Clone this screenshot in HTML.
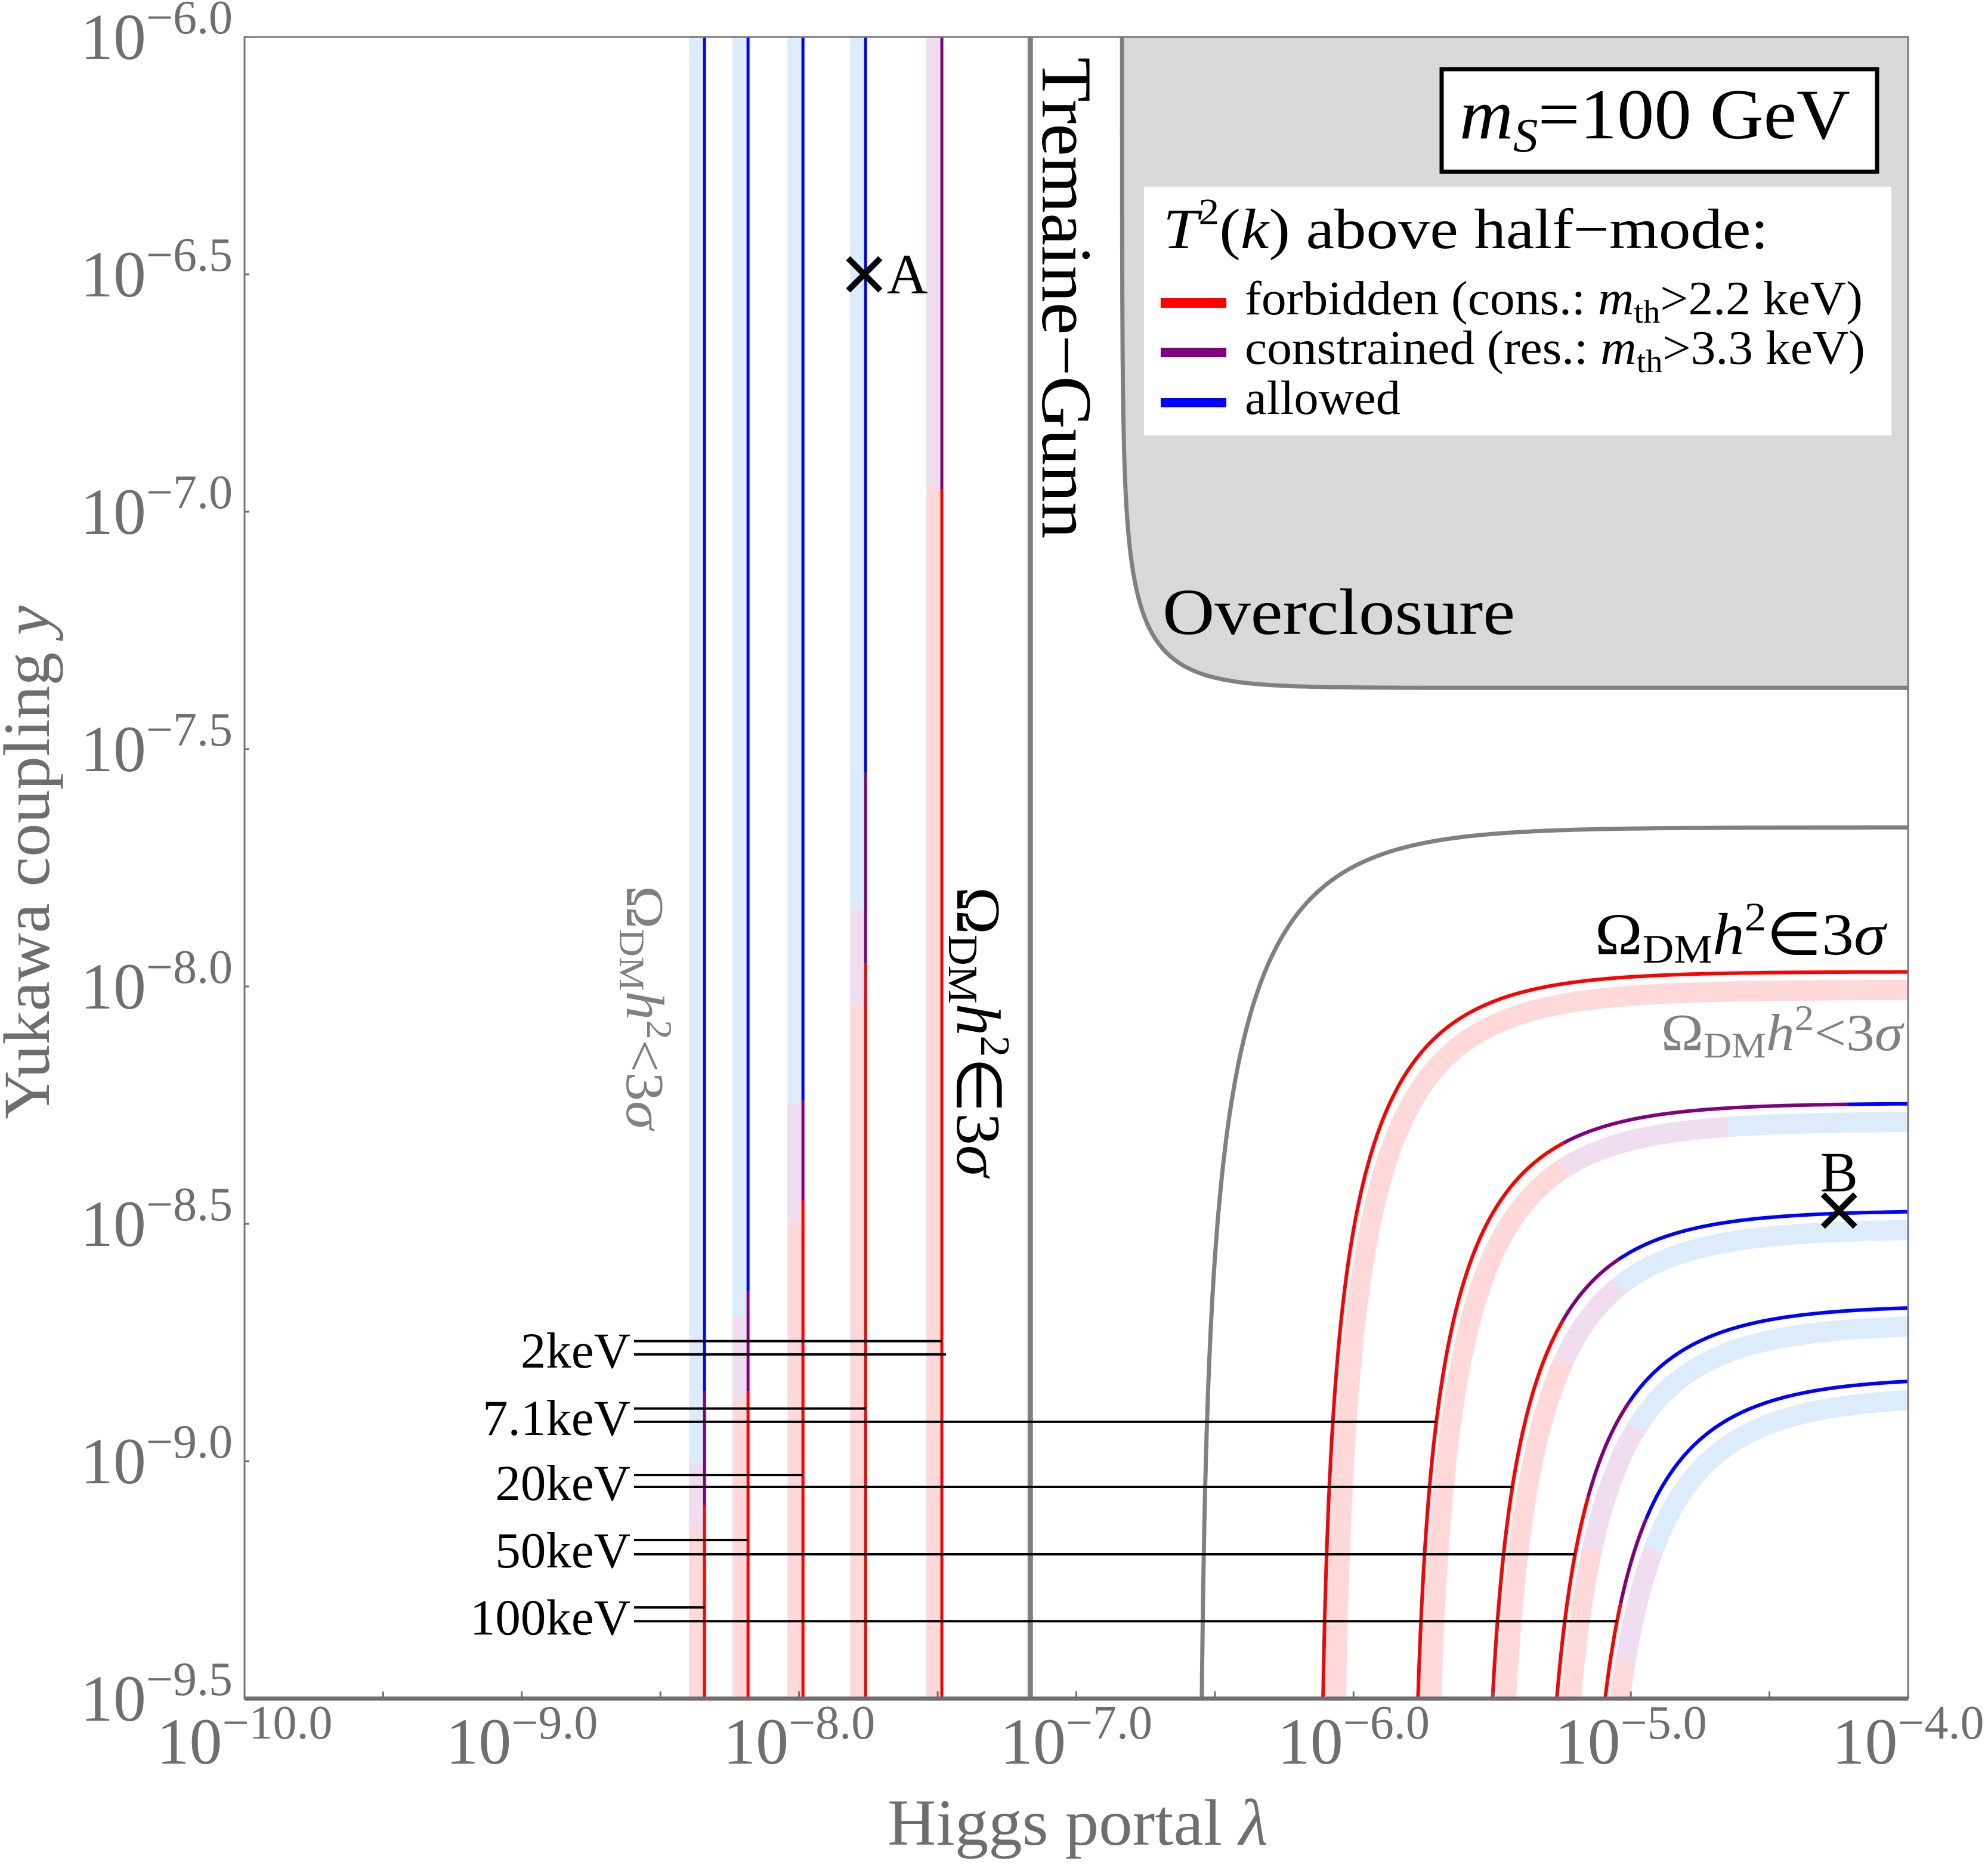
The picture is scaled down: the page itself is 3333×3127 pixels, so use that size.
<!DOCTYPE html>
<html><head><meta charset="utf-8"><style>
html,body{margin:0;padding:0;background:#fff;}
svg{display:block;font-family:"Liberation Serif",serif;}
</style></head><body>
<svg id="chart" width="3333" height="3127" viewBox="0 0 3333 3127" xmlns="http://www.w3.org/2000/svg">
<defs><clipPath id="plotClip"><rect x="410" y="62" width="2789" height="2786"/></clipPath></defs>
<rect x="0" y="0" width="3333" height="3127" fill="#fff"/>
<g id="gFill" clip-path="url(#plotClip)"></g>
<g id="gBands" clip-path="url(#plotClip)"></g>
<g id="gLines" clip-path="url(#plotClip)"></g>
<g id="gGray" clip-path="url(#plotClip)"></g>
<g id="gMass"></g>
<g id="gAxes"></g>
<g id="gText">
  <text transform="translate(1748,96) rotate(90)" font-size="120" textLength="807" lengthAdjust="spacingAndGlyphs" fill="#000">Tremaine−Gunn</text>
  <text x="1949" y="1063" font-size="110" textLength="591" lengthAdjust="spacingAndGlyphs" fill="#000">Overclosure</text>
  <text transform="translate(1605,1487) rotate(90)" font-size="105" textLength="486" lengthAdjust="spacingAndGlyphs" fill="#000">Ω<tspan font-size="70" dy="14">DM</tspan><tspan font-style="italic" dy="-14">h</tspan><tspan font-size="70" dy="-40">2</tspan><tspan dy="40">∈3</tspan><tspan font-style="italic">σ</tspan></text>
  <text transform="translate(1051,1485) rotate(90)" font-size="90" textLength="409" lengthAdjust="spacingAndGlyphs" fill="#808080">Ω<tspan font-size="60" dy="12">DM</tspan><tspan font-style="italic" dy="-12">h</tspan><tspan font-size="60" dy="-34">2</tspan><tspan dy="34">&lt;3</tspan><tspan font-style="italic">σ</tspan></text>
  <text x="2674" y="1600" font-size="100" textLength="487" lengthAdjust="spacingAndGlyphs" fill="#000">Ω<tspan font-size="68" dy="14">DM</tspan><tspan font-style="italic" dy="-14">h</tspan><tspan font-size="68" dy="-40">2</tspan><tspan dy="40">∈3</tspan><tspan font-style="italic">σ</tspan></text>
  <text x="2785" y="1761" font-size="88" textLength="405" lengthAdjust="spacingAndGlyphs" fill="#808080">Ω<tspan font-size="60" dy="12">DM</tspan><tspan font-style="italic" dy="-12">h</tspan><tspan font-size="60" dy="-34">2</tspan><tspan dy="34">&lt;3</tspan><tspan font-style="italic">σ</tspan></text>
  <g>
    <rect x="2417" y="116" width="730" height="172" fill="#fff" stroke="#000" stroke-width="7"/>
    <text x="2447" y="232" font-size="120" textLength="655" lengthAdjust="spacingAndGlyphs" fill="#000"><tspan font-style="italic">m</tspan><tspan font-style="italic" font-size="80" dy="22">S</tspan><tspan dy="-22">=100 GeV</tspan></text>
  </g>
  <g>
    <rect x="1918" y="313" width="1253" height="417" fill="#fff"/>
    <text x="1950" y="416" font-size="95" textLength="1015" lengthAdjust="spacingAndGlyphs" fill="#000"><tspan font-style="italic">T</tspan><tspan font-size="62" dy="-40">2</tspan><tspan dy="40">(</tspan><tspan font-style="italic">k</tspan>) above half−mode:</text>
    <g>
      <line x1="1946" x2="2056" y1="508" y2="508" stroke="#ff0000" stroke-width="16"/>
      <text x="2087" y="527" font-size="80" textLength="1036" lengthAdjust="spacingAndGlyphs" fill="#000">forbidden (cons.: <tspan font-style="italic">m</tspan><tspan font-size="54" dy="14">th</tspan><tspan dy="-14">&gt;2.2 keV)</tspan></text>
    </g>
    <g>
      <line x1="1946" x2="2056" y1="591" y2="591" stroke="#800080" stroke-width="16"/>
      <text x="2087" y="610" font-size="80" textLength="1040" lengthAdjust="spacingAndGlyphs" fill="#000">constrained (res.: <tspan font-style="italic">m</tspan><tspan font-size="54" dy="14">th</tspan><tspan dy="-14">&gt;3.3 keV)</tspan></text>
    </g>
    <g>
      <line x1="1946" x2="2056" y1="675" y2="675" stroke="#0000ff" stroke-width="16"/>
      <text x="2087" y="694" font-size="80" textLength="261" lengthAdjust="spacingAndGlyphs" fill="#000">allowed</text>
    </g>
  </g>
  <text x="1807" y="3093" font-size="110" text-anchor="middle" textLength="638" lengthAdjust="spacingAndGlyphs" fill="#6e6e6e">Higgs portal <tspan font-style="italic">λ</tspan></text>
  <text transform="translate(82,1446) rotate(-90)" font-size="110" text-anchor="middle" textLength="861" lengthAdjust="spacingAndGlyphs" fill="#6e6e6e">Yukawa coupling <tspan font-style="italic">y</tspan></text>
</g>
<g id="gMarkers"></g>
</svg>
<script>
// ---- data ----
const xTicks = [-10, -9, -8, -7, -6, -5, -4];
const xTickLabels = ['−10.0', '−9.0', '−8.0', '−7.0', '−6.0', '−5.0', '−4.0'];
const yTicks = [-6, -6.5, -7, -7.5, -8, -8.5, -9, -9.5];
const yTickLabels = ['−6.0', '−6.5', '−7.0', '−7.5', '−8.0', '−8.5', '−9.0', '−9.5'];
const vLineLambda = [-8.341, -8.184, -7.986, -7.760, -7.485];
const vLineBlueEnd = [-8.852, -8.641, -8.239, -7.550, -6.0];
const vLinePurpleEnd = [-9.093, -8.852, -8.451, -7.952, -6.953];
const vBandBlueEnd = [-9.006, -8.696, -8.248, -7.837, -6.0];
const vBandPurpleEnd = [-9.144, -8.869, -8.497, -8.042, -6.948];
const curveLambda0 = [-6.126, -5.795, -5.542, -5.333, -5.185];
const curveY0 = [-7.969, -8.246, -8.472, -8.672, -8.823];
const curveRedEnd = [-4, -5.247, -5.247, -5.155, -5.037];
const curvePurpleEnd = [-4, -4.236, -5.045, -5.006, -4.944];
const curveBandRedEnd = [-4, -5.247, -5.247, -5.140, -5.020];
const curveBandPurpleEnd = [-4, -4.649, -5.045, -4.980, -4.920];
const tremaineGunnLambda = -7.166;
const grayRelicLambda0 = -6.556;
const grayRelicY0 = -7.665;
const overclosureLambda0 = -6.835;
const overclosureY0 = -7.371;
const massLabels = ['2keV', '7.1keV', '20keV', '50keV', '100keV'];
const massUpperY = [-8.747, -8.889, -9.029, -9.166, -9.308];
const massLowerY = [-8.775, -8.917, -9.054, -9.196, -9.337];
const massUpperLine = [4, 3, 2, 1, 0];
const massLowerCurve = [-1, 1, 2, 3, 4];
const massLowerFallbackX = [-7.470, 0, 0, 0, 0];
const markerNames = ['A', 'B'];
const markerLambda = [-7.765, -4.249];
const markerY = [-6.5, -8.472];

// ---- axes ----
const L = 410, R = 3199, T = 62, B = 2848;
const xMin = -10, xMax = -4, yMin = -9.5, yMax = -6;
function sx(X) { return L + (X - xMin) / (xMax - xMin) * (R - L); }
function sy(Y) { return B - (Y - yMin) / (yMax - yMin) * (B - T); }
const NS = 'http://www.w3.org/2000/svg';
function mk(tag, attrs, parent) {
  const e = document.createElementNS(NS, tag);
  for (const k in attrs) e.setAttribute(k, attrs[k]);
  parent.appendChild(e);
  return e;
}
const K = 1.2, S = 1.5;
const COL = { red: '#ff0000', purple: '#800080', blue: '#0000ff' };
const BAND = { red: '#ffd9d9', purple: '#f0def0', blue: '#dcecfb' };

function curvePoints(X0, Y0) {
  const dStart = -Math.log10(1 - Math.pow(10, (yMin - 0.05 - Y0) / K)) / S;
  const dEnd = (xMax - X0) + 0.05;
  const pts = [];
  const n = 300;
  for (let i = 0; i <= n; i++) {
    const d = dStart * Math.pow(dEnd / dStart, i / n);
    pts.push([X0 + d, Y0 + K * Math.log10(1 - Math.pow(10, -S * d))]);
  }
  return pts;
}
function curveXatY(X0, Y0, Y) {
  return X0 - Math.log10(1 - Math.pow(10, (Y - Y0) / K)) / S;
}
function segColor(X, redEnd, purpleEnd) {
  if (X <= redEnd) return 'red';
  if (X <= purpleEnd) return 'purple';
  return 'blue';
}
function drawSegmented(pts, redEnd, purpleEnd, palette, width, parent, name) {
  let cur = null, seg = [];
  const flush = () => {
    if (seg.length > 1) {
      const p = mk('polyline', { points: seg.map(q => sx(q[0]).toFixed(1) + ',' + sy(q[1]).toFixed(1)).join(' '), fill: 'none', stroke: palette[cur], 'stroke-width': width, 'stroke-linejoin': 'round' }, parent);
      
      
    }
  };
  pts.forEach(q => {
    const c = segColor(q[0], redEnd, purpleEnd);
    if (c !== cur) { if (cur) { seg.push(q); flush(); } seg = [q]; cur = c; }
    else seg.push(q);
  });
  flush();
}

const gFill = document.getElementById('gFill');
const gBands = document.getElementById('gBands');
const gLines = document.getElementById('gLines');
const gGray = document.getElementById('gGray');
const gMass = document.getElementById('gMass');
const gAxes = document.getElementById('gAxes');
const gMarkers = document.getElementById('gMarkers');

// overclosure region
(function () {
  const s = 2.7, pts = [];
  for (let i = 0; i <= 600; i++) {
    const v = -18 + 36 * i / 600;
    const u = 1 / (1 + Math.pow(10, -v));
    pts.push([overclosureLambda0 - Math.log10(u) / s, overclosureY0 - Math.log10(1 - u) / s]);
  }
  const poly = pts.map(q => sx(q[0]).toFixed(1) + ',' + sy(q[1]).toFixed(1));
  const fill = mk('polygon', { points: poly.join(' ') + ' ' + (R + 3000) + ',' + (T - 3000), fill: '#d9d9d9' }, gFill);
  
  
  const line = mk('polyline', { points: poly.join(' '), fill: 'none', stroke: '#808080', 'stroke-width': 7 }, gGray);
  
  
})();

// vertical lines (pure Higgs portal)
vLineLambda.forEach((X, i) => {
  const x = sx(X);
  const bSegs = [['blue', yMax, vBandBlueEnd[i]], ['purple', vBandBlueEnd[i], vBandPurpleEnd[i]], ['red', vBandPurpleEnd[i], yMin]];
  bSegs.forEach(s => {
    if (s[1] <= s[2]) return;
    const r = mk('rect', { x: x - 26, y: sy(s[1]), width: 26, height: sy(s[2]) - sy(s[1]), fill: BAND[s[0]] }, gBands);
    
    
  });
  const lSegs = [['blue', yMax, vLineBlueEnd[i]], ['purple', vLineBlueEnd[i], vLinePurpleEnd[i]], ['red', vLinePurpleEnd[i], yMin]];
  lSegs.forEach(s => {
    if (s[1] <= s[2]) return;
    const l = mk('line', { x1: x, x2: x, y1: sy(s[1]), y2: sy(s[2]), stroke: COL[s[0]], 'stroke-width': 5 }, gLines);
    
    
  });
});

// bent curves
curveLambda0.forEach((X0, i) => {
  const Y0 = curveY0[i];
  const bandPts = curvePoints(X0 + 0.045, Y0 - 0.038);
  drawSegmented(bandPts, curveBandRedEnd[i], curveBandPurpleEnd[i], BAND, 34, gBands, 'curve-band-' + i);
  const pts = curvePoints(X0, Y0);
  drawSegmented(pts, curveRedEnd[i], curvePurpleEnd[i], COL, 6, gLines, 'curve-' + i);
});

// gray relic boundary & Tremaine-Gunn
(function () {
  const pts = curvePoints(grayRelicLambda0, grayRelicY0);
  const p = mk('polyline', { points: pts.map(q => sx(q[0]).toFixed(1) + ',' + sy(q[1]).toFixed(1)).join(' '), fill: 'none', stroke: '#808080', 'stroke-width': 7 }, gGray);
  
  
  const tg = mk('line', { x1: sx(tremaineGunnLambda), x2: sx(tremaineGunnLambda), y1: T, y2: B, stroke: '#808080', 'stroke-width': 9 }, gGray);
  
  
})();

// mass markers
massLabels.forEach((lab, i) => {
  const x0 = 1063;
  const ux = sx(vLineLambda[massUpperLine[i]]);
  const ci = massLowerCurve[i];
  const lx = ci >= 0 ? sx(curveXatY(curveLambda0[ci], curveY0[ci], massLowerY[i])) : sx(massLowerFallbackX[i]);
  const u = mk('line', { x1: x0, x2: ux, y1: sy(massUpperY[i]), y2: sy(massUpperY[i]), stroke: '#000', 'stroke-width': 4 }, gMass);
  
  
  const lw = mk('line', { x1: x0, x2: lx, y1: sy(massLowerY[i]), y2: sy(massLowerY[i]), stroke: '#000', 'stroke-width': 4 }, gMass);
  
  
  const t = mk('text', { x: 1057, y: sy(massLowerY[i]) + 22, 'font-size': 85, 'text-anchor': 'end', fill: '#000' }, gMass);
  
  
  t.textContent = lab;
});

// frame & ticks
(function () {
  const fr = mk('rect', { x: L, y: T, width: R - L, height: B - T, fill: 'none', stroke: '#767676', 'stroke-width': 3 }, gAxes);
  
  
  const bx = mk('line', { x1: L, x2: R, y1: B, y2: B, stroke: '#6e6e6e', 'stroke-width': 7 }, gAxes);
  
  
  for (let X = xMin; X <= xMax + 1e-9; X += 0.5) {
    const tk = mk('line', { x1: sx(X), x2: sx(X), y1: B, y2: B - 12, stroke: '#6e6e6e', 'stroke-width': 3 }, gAxes);
    
    
  }
  yTicks.forEach(Y => {
    const tk = mk('line', { x1: L, x2: L + 8, y1: sy(Y), y2: sy(Y), stroke: '#6e6e6e', 'stroke-width': 3 }, gAxes);
    
    
  });
  xTicks.forEach((X, i) => {
    const t = mk('text', { x: sx(X), y: 2957, 'font-size': 110, 'text-anchor': 'middle', fill: '#6e6e6e' }, gAxes);
    
    
    t.innerHTML = '10<tspan font-size="80" dy="-42">' + xTickLabels[i] + '</tspan>';
  });
  yTicks.forEach((Y, i) => {
    const t = mk('text', { x: 390, y: sy(Y) + 37, 'font-size': 110, 'text-anchor': 'end', fill: '#6e6e6e' }, gAxes);
    
    
    t.innerHTML = '10<tspan font-size="80" dy="-43">' + yTickLabels[i] + '</tspan>';
  });
})();

// benchmark markers
markerNames.forEach((nm, i) => {
  const x = sx(markerLambda[i]), y = sy(markerY[i]);
  const g = mk('g', {}, gMarkers);
  
  
  mk('path', { d: `M${x - 27},${y - 27}L${x + 27},${y + 27}M${x - 27},${y + 27}L${x + 27},${y - 27}`, stroke: '#000', 'stroke-width': 10 }, g);
  const t = mk('text', i === 0 ? { x: x + 38, y: y + 32 } : { x: x, y: y - 32, 'text-anchor': 'middle' }, g);
  t.setAttribute('font-size', 95);
  t.setAttribute('fill', '#000');
  t.textContent = nm;
});
</script>
</body></html>
